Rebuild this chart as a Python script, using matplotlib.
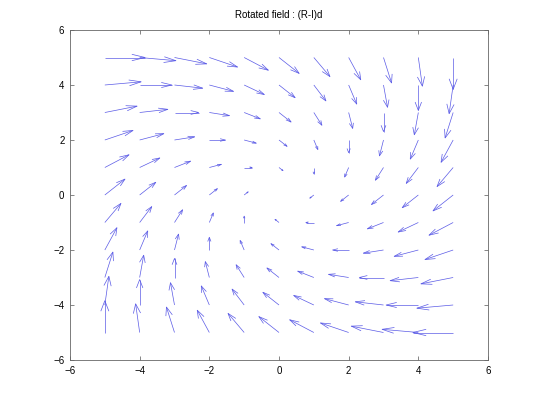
import numpy as np
import matplotlib
matplotlib.use('Agg')
import matplotlib.pyplot as plt
from matplotlib.collections import LineCollection

plt.rcParams['font.family'] = ['Liberation Sans', 'DejaVu Sans']

x_vals = [-5, -4, -3, -2, -1, 0, 1, 2, 3, 4, 5]
y_vals = [-5, -4, -3, -2, -1, 0, 1, 2, 3, 4, 5]

# vector components, rows go from y=-5 up to y=5
U = [
    [0, -1, -2, -3, -4, -5, -6, -7, -8, -9, -10],
    [1, 0, -1, -2, -3, -4, -5, -6, -7, -8, -9],
    [2, 1, 0, -1, -2, -3, -4, -5, -6, -7, -8],
    [3, 2, 1, 0, -1, -2, -3, -4, -5, -6, -7],
    [4, 3, 2, 1, 0, -1, -2, -3, -4, -5, -6],
    [5, 4, 3, 2, 1, 0, -1, -2, -3, -4, -5],
    [6, 5, 4, 3, 2, 1, 0, -1, -2, -3, -4],
    [7, 6, 5, 4, 3, 2, 1, 0, -1, -2, -3],
    [8, 7, 6, 5, 4, 3, 2, 1, 0, -1, -2],
    [9, 8, 7, 6, 5, 4, 3, 2, 1, 0, -1],
    [10, 9, 8, 7, 6, 5, 4, 3, 2, 1, 0],
]
V = [
    [10, 9, 8, 7, 6, 5, 4, 3, 2, 1, 0],
    [9, 8, 7, 6, 5, 4, 3, 2, 1, 0, -1],
    [8, 7, 6, 5, 4, 3, 2, 1, 0, -1, -2],
    [7, 6, 5, 4, 3, 2, 1, 0, -1, -2, -3],
    [6, 5, 4, 3, 2, 1, 0, -1, -2, -3, -4],
    [5, 4, 3, 2, 1, 0, -1, -2, -3, -4, -5],
    [4, 3, 2, 1, 0, -1, -2, -3, -4, -5, -6],
    [3, 2, 1, 0, -1, -2, -3, -4, -5, -6, -7],
    [2, 1, 0, -1, -2, -3, -4, -5, -6, -7, -8],
    [1, 0, -1, -2, -3, -4, -5, -6, -7, -8, -9],
    [0, -1, -2, -3, -4, -5, -6, -7, -8, -9, -10],
]

X, Y = np.meshgrid(x_vals, y_vals)
u = np.array(U, dtype=float)
v = np.array(V, dtype=float)

# octave style autoscale: longest arrow ~0.9 of a grid cell diagonal
dx = (max(x_vals) - min(x_vals)) / len(x_vals)
dy = (max(y_vals) - min(y_vals)) / len(y_vals)
s = 0.9 * np.hypot(dx, dy) / np.hypot(u, v).max()
u = u * s
v = v * s

head = 0.33   # head length, fraction of arrow
hw = 0.10     # head half width, fraction of arrow

segs = []
for x0, y0, du, dv in zip(X.ravel(), Y.ravel(), u.ravel(), v.ravel()):
    if du == 0 and dv == 0:
        continue
    tx, ty = x0 + du, y0 + dv
    bx, by = x0 + du * (1 - head), y0 + dv * (1 - head)
    segs.append([(x0, y0), (tx, ty)])
    segs.append([(bx - dv * hw, by + du * hw), (tx, ty), (bx + dv * hw, by - du * hw)])

fig = plt.figure(figsize=(5.4, 4.05), dpi=100)
ax = fig.add_axes([70 / 540, 45 / 405, 418 / 540, 330 / 405])
ax.add_collection(LineCollection(segs, colors='#5a5ae6', linewidths=0.5))

ax.set_xlim(-6, 6)
ax.set_ylim(-6, 6)
ax.set_xticks(range(-6, 7, 2))
ax.set_yticks(range(-6, 7, 2))
ax.tick_params(direction='in', top=True, right=True, length=3, width=0.5,
               labelsize=7, pad=4, color='#555555')
for sp in ax.spines.values():
    sp.set_linewidth(0.6)
    sp.set_color('#666666')
ax.set_title('Rotated field : (R-I)d', fontsize=7, pad=9)

fig.savefig('out.png', dpi=100)
